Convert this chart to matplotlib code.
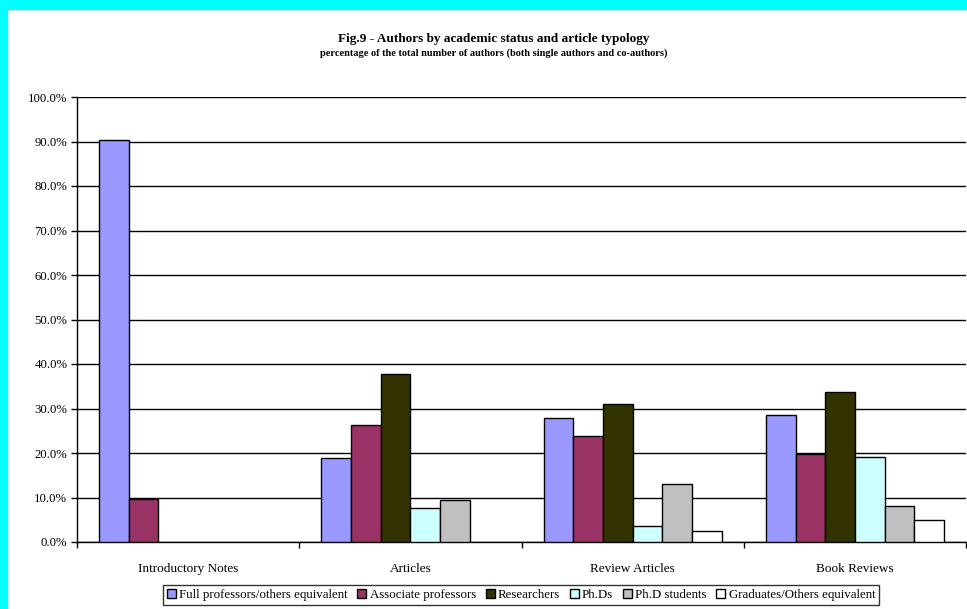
import numpy as np
import matplotlib
matplotlib.use("Agg")
from matplotlib import pyplot as plt
from matplotlib.patches import Rectangle

plt.rcParams['font.family'] = ['Liberation Serif', 'DejaVu Serif']

categories = ['Introductory Notes', 'Articles', 'Review Articles', 'Book Reviews']
series_names = ['Full professors/others equivalent', 'Associate professors', 'Researchers',
                'Ph.Ds', 'Ph.D students', 'Graduates/Others equivalent']
full_prof = [90.3, 18.8, 27.9, 28.6]
assoc_prof = [9.7, 26.4, 23.9, 19.7]
researchers = [0.0, 37.7, 31.1, 33.6]
phds = [0.0, 7.6, 3.7, 19.2]
phd_students = [0.0, 9.4, 13.0, 8.2]
graduates = [0.0, 0.0, 2.5, 5.0]
colors = ['#9999FF', '#993366', '#333300', '#CCFFFF', '#C0C0C0', '#FFFFFF']

fig = plt.figure(figsize=(9.67, 6.09), dpi=100)
# cyan frame at top and left
fig.patches.append(Rectangle((0, 1 - 9 / 609), 1, 9 / 609, transform=fig.transFigure,
                             color='#00FFFF', zorder=0))
fig.patches.append(Rectangle((0, 0), 7 / 967, 1, transform=fig.transFigure,
                             color='#00FFFF', zorder=0))

ax = fig.add_axes([77 / 967, 1 - 542 / 609, 889 / 967, 445 / 609])

x = np.arange(len(categories))
w = 1 / 7.5
all_series = [full_prof, assoc_prof, researchers, phds, phd_students, graduates]
for i, (vals, name, c) in enumerate(zip(all_series, series_names, colors)):
    v = np.array(vals)
    # skip zero-height bars so they don't draw a line on the baseline
    mask = v > 0
    ax.bar(x[mask] + (i - 2.5) * w, v[mask], width=w, color=c, edgecolor='black',
           linewidth=1, label=name, zorder=3)

ax.set_xlim(-0.5, len(categories) - 0.5)
ax.set_ylim(0, 100)
ax.set_yticks(np.arange(0, 101, 10))
ax.set_yticklabels([f'{t:.1f}%' for t in np.arange(0, 101, 10)], fontsize=9.2)
ax.set_xticks(x)
ax.set_xticklabels(categories, fontsize=9.5)
ax.tick_params(axis='x', which='major', length=0, pad=15)
ax.set_xticks(np.arange(-0.5, len(categories), 1), minor=True)
ax.tick_params(axis='x', which='minor', length=4, width=1, direction='out')
ax.tick_params(axis='y', length=4, width=1, direction='out', pad=3)
ax.grid(axis='y', color='black', linewidth=1, zorder=0)
for s in ['top', 'right']:
    ax.spines[s].set_visible(False)
ax.spines['left'].set_linewidth(1)
ax.spines['bottom'].set_linewidth(1)

fig.text(494 / 967, 1 - 39 / 609, 'Fig.9 - Authors by academic status and article typology',
         ha='center', va='center', fontsize=9.5, fontweight='bold')
fig.text(494 / 967, 1 - 53 / 609,
         'percentage of the total number of authors (both single authors and co-authors)',
         ha='center', va='center', fontsize=7.5, fontweight='bold')

leg = fig.legend(loc='center', bbox_to_anchor=(521 / 967, 1 - 595 / 609), ncol=6,
                 fontsize=9.3, frameon=True, fancybox=False, edgecolor='black',
                 handlelength=0.7, handleheight=0.7, handletextpad=0.25,
                 columnspacing=0.75, borderpad=0.3)
leg.get_frame().set_linewidth(1)

fig.savefig('out.png', dpi=100)
